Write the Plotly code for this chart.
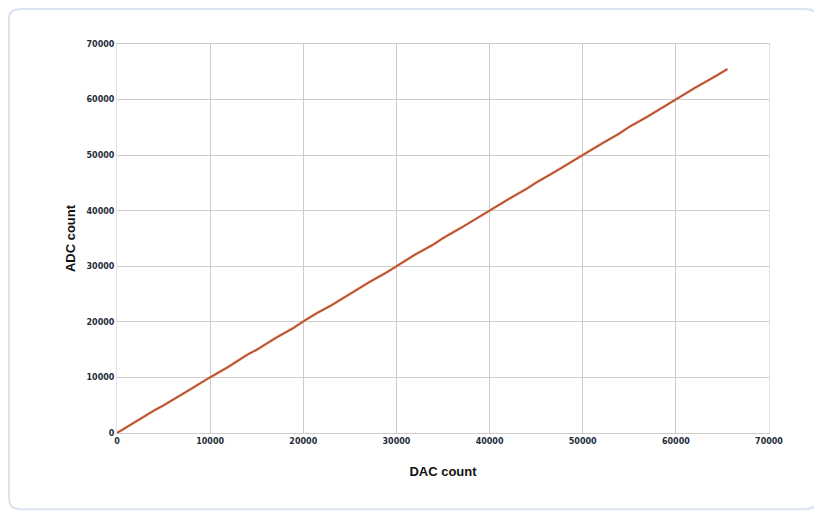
import plotly.graph_objects as go

# DAC vs ADC transfer curve
dac_count = [0, 1000, 2500, 4000, 5000, 6500, 8000, 10000, 12000, 14000, 15000,
             17000, 19000, 20000, 21500, 23000, 25000, 27000, 29000, 30000,
             32000, 34000, 35000, 37000, 39000, 40000, 42000, 44000, 45000,
             47000, 49000, 50000, 52000, 54000, 55000, 57000, 59000, 60000,
             62000, 64000, 65535]
adc_count = [0, 1030, 2450, 4060, 4980, 6560, 7980, 10030, 11950, 14100, 14980,
             17060, 18950, 20080, 21600, 22950, 25030, 27060, 28970, 30000,
             32100, 33950, 35060, 36980, 39030, 40000, 42060, 43970, 45060,
             46980, 49060, 50000, 52030, 53950, 55100, 56970, 59060, 60000,
             62060, 63970, 65500]

x_ticks = [0, 10000, 20000, 30000, 40000, 50000, 60000, 70000]
y_ticks = [0, 10000, 20000, 30000, 40000, 50000, 60000, 70000]

fig = go.Figure()
# light orange halo under the dark trace
fig.add_trace(go.Scatter(x=dac_count, y=adc_count, mode='lines',
                         line=dict(color='#e8845a', width=2.6), hoverinfo='skip'))
fig.add_trace(go.Scatter(x=dac_count, y=adc_count, mode='lines',
                         line=dict(color='#8c3b2b', width=1)))

tick_font = dict(family='DejaVu Sans', size=8, color='#1f2d3d', weight='bold')
title_font = dict(family='Liberation Sans', size=13, color='#111111', weight='bold')

fig.update_xaxes(range=[0, 70000], tickvals=x_ticks,
                 ticktext=[str(v) for v in x_ticks], tickfont=tick_font,
                 showgrid=True, gridcolor='#cccccc', gridwidth=1,
                 zeroline=False, showline=True, linecolor='#cccccc',
                 mirror=True, ticks='', automargin=False,
                 title=dict(text='DAC count', font=title_font, standoff=22))
fig.update_yaxes(range=[0, 70000], tickvals=y_ticks,
                 ticktext=[str(v) for v in y_ticks], tickfont=tick_font,
                 showgrid=True, gridcolor='#cccccc', gridwidth=1,
                 zeroline=False, showline=True, linecolor='#e2e2e2',
                 mirror=True, ticks='', automargin=False,
                 title=dict(text='ADC count', font=title_font, standoff=8))

# the page adds an 8px body margin, so the figure is shrunk to match
fig.update_layout(
    width=814, height=505,
    margin=dict(l=109, r=53, t=36, b=80),
    paper_bgcolor='white', plot_bgcolor='white',
    showlegend=False,
    shapes=[dict(type='path', xref='paper', yref='paper',
                 path='M -0.1656,-0.17 L -0.1656,1.068 Q -0.1656,1.09 -0.145,1.09 '
                      'L 1.053,1.09 Q 1.0736,1.09 1.0736,1.068 L 1.0736,-0.172 '
                      'Q 1.0736,-0.196 1.053,-0.196 L -0.145,-0.196 Q -0.1656,-0.196 -0.1656,-0.17 Z',
                 line=dict(color='#dce3f0', width=2), layer='below')],
)

fig.write_html("out.html")
